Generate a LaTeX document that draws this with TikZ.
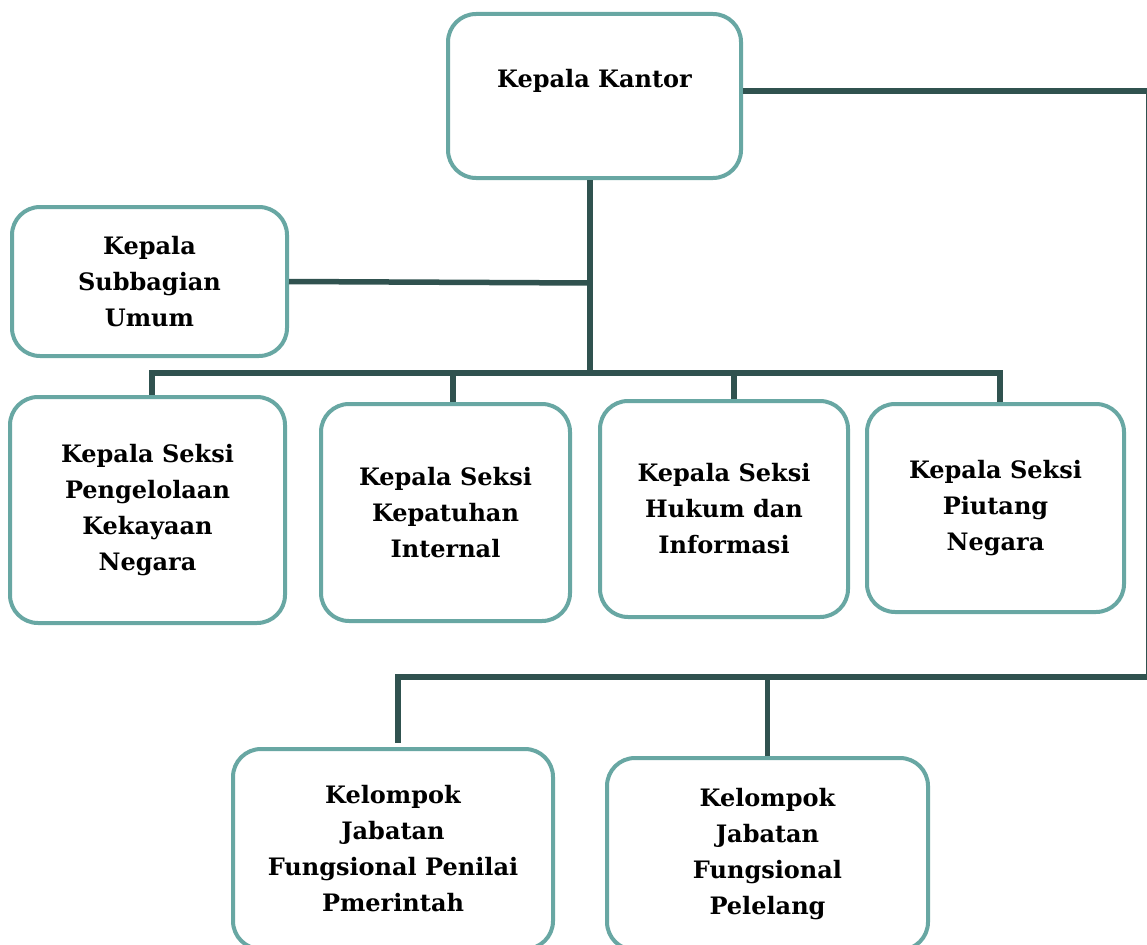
\documentclass[tikz,border=0pt]{standalone}
\usepackage{fontspec}
\setmainfont{DejaVu Serif}
\definecolor{boxc}{HTML}{68A7A3}
\definecolor{linec}{HTML}{30524F}
\begin{document}
\begin{tikzpicture}[x=1pt,y=-1pt,
 box/.style={draw=boxc, line width=4pt, rounded corners=28pt, fill=white, align=center,
   font=\fontsize{24}{36}\selectfont\bfseries, inner sep=0pt},
 conn/.style={draw=linec, line width=5.5pt}]
\useasboundingbox (0,0) rectangle (1147,944);
\node[box, minimum width=293pt, minimum height=164pt] (kk) at (594.5,96) {Kepala Kantor\\ \mbox{}};
\node[box, minimum width=275pt, minimum height=149pt] (sub) at (149.5,281.5) {Kepala\\Subbagian\\Umum};
\node[box, minimum width=275pt, minimum height=226pt] (s1) at (147.5,510) {Kepala Seksi\\Pengelolaan\\Kekayaan\\Negara};
\node[box, minimum width=249pt, minimum height=217pt] (s2) at (445.5,512.5) {Kepala Seksi\\Kepatuhan\\Internal};
\node[box, minimum width=248pt, minimum height=216pt] (s3) at (724,509) {Kepala Seksi\\Hukum dan\\Informasi};
\node[box, minimum width=257pt, minimum height=208pt] (s4) at (995.5,508) {Kepala Seksi\\Piutang\\Negara};
\node[box, minimum width=320pt, minimum height=200pt] (k1) at (393,849) {Kelompok\\Jabatan\\Fungsional Penilai\\Pmerintah};
\node[box, minimum width=321pt, minimum height=192pt] (k2) at (767.5,854) {Kelompok\\Jabatan\\Fungsional\\Pelelang};
\coordinate (bus) at (590,373);
\coordinate (tr) at (590,283);
\coordinate (rt) at (1148.5,91);
\coordinate (rb) at (1148.5,677);
\draw[conn] ([xshift=-4.5pt]kk.south) -- (bus);
\draw[conn] (sub.east) -- (tr);
\draw[conn] ([xshift=4.5pt]s1.north) |- (bus);
\draw[conn] ([xshift=4.5pt]s4.north) |- (bus);
\draw[conn] ([xshift=7.5pt]s2.north) -- ([xshift=7.5pt]s2.north |- bus);
\draw[conn] ([xshift=10pt]s3.north) -- ([xshift=10pt]s3.north |- bus);
\draw[conn] ([yshift=5pt]kk.east) -- (rt) -- (rb) -| ([xshift=5pt,yshift=4pt]k1.north);
\draw[conn] ([yshift=0pt]k2.north) -- (k2.north |- rb);
\end{tikzpicture}
\end{document}
